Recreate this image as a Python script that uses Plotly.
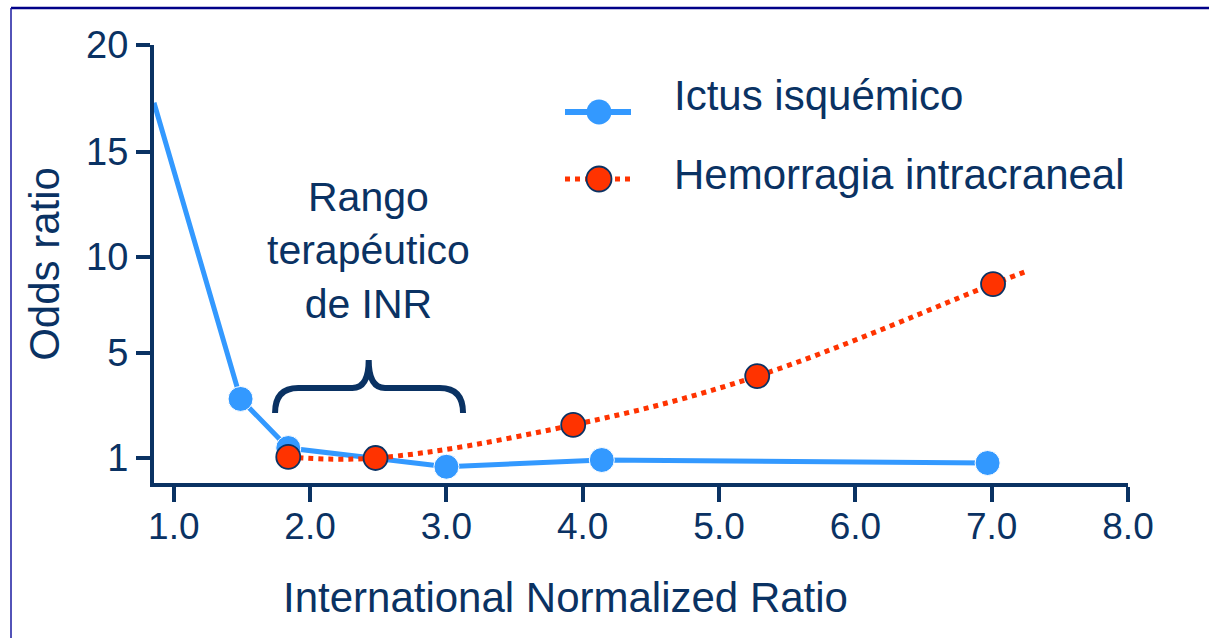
import numpy as np
import plotly.graph_objects as go

# ---------------- data ----------------
inr_ictus = [0.855, 1.49, 1.84, 3.0, 4.14, 6.97]
or_ictus = [17.3, 3.25, 1.38, 0.65, 0.92, 0.80]

inr_hem = [1.84, 2.48, 3.93, 5.28, 7.01, 7.26]
or_hem = [1.04, 1.00, 2.26, 4.12, 8.59, 9.27]

y_tick_values = [1, 5, 10, 15, 20]
x_tick_values = [1, 2, 3, 4, 5, 6, 7, 8]

series_names = ["Ictus isquémico", "Hemorragia intracraneal"]
brace_text = "Rango<br>terapéutico<br>de INR"
x_title = "International Normalized Ratio"
y_title = "Odds ratio"

# The original chart's odds-ratio axis is piecewise (the "1" tick sits near the floor)
scale_vals = [0, 1, 5, 10, 15, 20]
scale_pos = [0, 25, 130, 226, 331, 438]


def ys(v):
    return np.interp(v, scale_vals, scale_pos)


# ---------------- styling ----------------
NAVY = "#0A3263"
BLUE = "#3399FF"
RED = "#FF3300"
FONT = "Liberation Sans, Arial, sans-serif"
W, H = 1209, 638
ML, MR, MT, MB = 154, 81, 45, 155
PW, PH = W - ML - MR, H - MT - MB


def px2paper(px, py):
    return (px - ML) / PW, (H - MB - py) / PH


fig = go.Figure()

fig.add_trace(go.Scatter(
    x=inr_ictus, y=ys(or_ictus), mode="lines+markers", name=series_names[0],
    line=dict(color=BLUE, width=5),
    marker=dict(color=BLUE, size=[0, 25, 25, 25, 25, 25], opacity=1),
    cliponaxis=False, showlegend=False,
))
fig.add_trace(go.Scatter(
    x=inr_hem, y=ys(or_hem), mode="lines+markers", name=series_names[1],
    line=dict(color=RED, width=5, dash="5px,5px", shape="spline", smoothing=1.1),
    marker=dict(color=RED, size=[24, 24, 24, 24, 24, 0], opacity=1,
                line=dict(color=NAVY, width=1.8)),
    cliponaxis=False, showlegend=False,
))

# ---------------- manual legend on an overlay axis (pixel space) ----------------
leg = [(112, BLUE, "solid", None, 95), (179, RED, "5px,5px", NAVY, 174)]
for (ly, col, dash, outline, ty), name in zip(leg, series_names):
    fig.add_trace(go.Scatter(
        x=[565, 599, 631], y=[ly, ly, ly], xaxis="x2", yaxis="y2",
        mode="lines+markers", showlegend=False, hoverinfo="skip",
        line=dict(color=col, width=6 if dash == "solid" else 5, dash=dash),
        marker=dict(color=col, size=[0, 25, 0], opacity=1,
                    line=dict(color=outline or col, width=1.8 if outline else 0)),
    ))
    fig.add_annotation(x=672, y=ty, xref="x2", yref="y2", text=name,
                       showarrow=False, xanchor="left", yanchor="middle",
                       font=dict(family=FONT, size=42, color=NAVY))

# ---------------- brace over the therapeutic range ----------------
bx0, bx1, bxc = 1.743, 3.122, 2.43
yb, ym, yt = 70, 95, 123
r = 0.17
path = (f"M {bx0},{yb} Q {bx0},{ym} {bx0 + r},{ym} "
        f"L {bxc - 0.12},{ym} Q {bxc},{ym} {bxc},{yt} "
        f"Q {bxc},{ym} {bxc + 0.12},{ym} "
        f"L {bx1 - r},{ym} Q {bx1},{ym} {bx1},{yb}")
fig.add_shape(type="path", path=path, xref="x", yref="y",
              line=dict(color=NAVY, width=6))

fig.add_annotation(x=bxc, y=233, xref="x", yref="y", text=brace_text,
                   showarrow=False, xanchor="center", yanchor="middle",
                   font=dict(family=FONT, size=41, color=NAVY))

# x-axis title (offset left of the plot centre in the original)
tx, ty_ = px2paper(565, 597)
fig.add_annotation(x=tx, y=ty_, xref="paper", yref="paper", text=x_title,
                   showarrow=False, xanchor="center", yanchor="middle",
                   font=dict(family=FONT, size=42, color=NAVY))

# ---------------- frame (only top and left edges are visible) ----------------
x0p, y0p = px2paper(11, 8)
x1p, y1p = px2paper(1215, 645)
fig.add_shape(type="line", xref="paper", yref="paper", x0=x0p, y0=y0p, x1=x1p, y1=y0p,
              line=dict(color="#000088", width=2.5))
fig.add_shape(type="line", xref="paper", yref="paper", x0=x0p, y0=y0p, x1=x0p, y1=y1p,
              line=dict(color="#1A1AA0", width=1.5))

fig.update_layout(
    width=W, height=H,
    margin=dict(l=ML, r=MR, t=MT, b=MB, pad=0),
    paper_bgcolor="white", plot_bgcolor="white",
    font=dict(family=FONT, color=NAVY),
    xaxis=dict(
        range=[0.855, 8.0], tickvals=x_tick_values,
        ticktext=[f"{v:.1f}" for v in x_tick_values],
        showline=True, linecolor=NAVY, linewidth=4,
        ticks="outside", ticklen=15, tickwidth=4, tickcolor=NAVY,
        showgrid=False, zeroline=False, ticklabelstandoff=-7,
        tickfont=dict(family=FONT, size=37, color=NAVY),
    ),
    yaxis=dict(
        range=[0, 438], tickvals=list(ys(y_tick_values)),
        ticktext=[str(v) for v in y_tick_values],
        showline=True, linecolor=NAVY, linewidth=4,
        ticks="outside", ticklen=14, tickwidth=4, tickcolor=NAVY,
        showgrid=False, zeroline=False,
        tickfont=dict(family=FONT, size=38, color=NAVY),
        title=dict(text=y_title, font=dict(family=FONT, size=42, color=NAVY), standoff=14),
    ),
    xaxis2=dict(domain=[0, 1], range=[ML, W - MR], visible=False, overlaying="x",
                anchor="y2", fixedrange=True),
    yaxis2=dict(domain=[0, 1], range=[H - MB, MT], visible=False, overlaying="y",
                anchor="x2", fixedrange=True),
    showlegend=False,
)

fig.write_html("out.html")
